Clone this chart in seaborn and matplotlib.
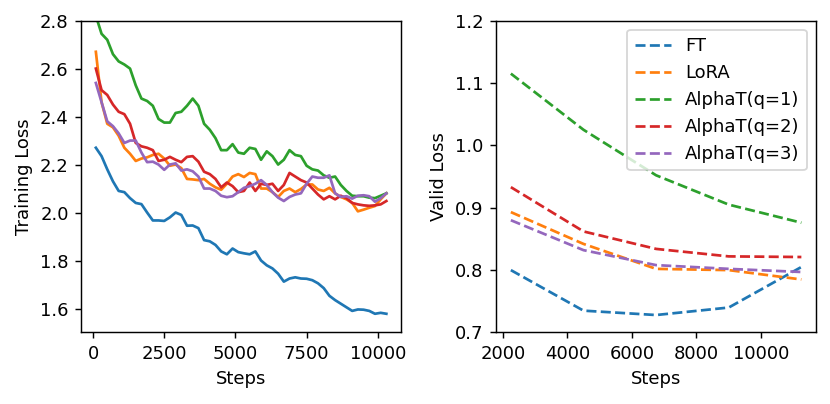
import numpy as np
import pandas as pd
import matplotlib
matplotlib.use("Agg")
import matplotlib.pyplot as plt
import seaborn as sns

# training loss curves (left)
train_steps = [100, 300, 500, 700, 900, 1100, 1300, 1500, 1700, 1900,
               2100, 2300, 2500, 2700, 2900, 3100, 3300, 3500, 3700, 3900,
               4100, 4300, 4500, 4700, 4900, 5100, 5300, 5500, 5700, 5900,
               6100, 6300, 6500, 6700, 6900, 7100, 7300, 7500, 7700, 7900,
               8100, 8300, 8500, 8700, 8900, 9100, 9300, 9500, 9700, 9900,
               10100, 10300]
train_ft = [2.27, 2.235, 2.18, 2.13, 2.09, 2.085, 2.06, 2.04, 2.035, 2.0,
            1.967, 1.967, 1.965, 1.98, 2.0, 1.99, 1.945, 1.946, 1.935, 1.885,
            1.88, 1.865, 1.838, 1.826, 1.85, 1.835, 1.83, 1.826, 1.838, 1.80,
            1.78, 1.767, 1.745, 1.712, 1.725, 1.73, 1.725, 1.724, 1.718, 1.705,
            1.685, 1.653, 1.635, 1.62, 1.605, 1.59, 1.596, 1.595, 1.59, 1.578,
            1.582, 1.578]
train_lora = [2.67, 2.46, 2.37, 2.355, 2.32, 2.27, 2.245, 2.215, 2.225, 2.23,
              2.24, 2.245, 2.225, 2.195, 2.2, 2.185, 2.14, 2.138, 2.135, 2.14,
              2.12, 2.105, 2.095, 2.12, 2.15, 2.16, 2.148, 2.165, 2.16, 2.1,
              2.1, 2.085, 2.065, 2.09, 2.1, 2.085, 2.098, 2.117, 2.117, 2.096,
              2.09, 2.103, 2.08, 2.065, 2.055, 2.04, 2.005, 2.012, 2.02, 2.027,
              2.055, 2.08]
train_q1 = [2.82, 2.745, 2.72, 2.66, 2.63, 2.617, 2.60, 2.53, 2.475, 2.465,
            2.445, 2.39, 2.375, 2.375, 2.415, 2.42, 2.445, 2.475, 2.445, 2.37,
            2.345, 2.31, 2.26, 2.26, 2.285, 2.25, 2.245, 2.27, 2.265, 2.22,
            2.255, 2.235, 2.2, 2.22, 2.26, 2.24, 2.235, 2.195, 2.18, 2.175,
            2.155, 2.145, 2.15, 2.115, 2.09, 2.07, 2.068, 2.068, 2.062, 2.06,
            2.07, 2.08]
train_q2 = [2.60, 2.51, 2.49, 2.45, 2.42, 2.41, 2.37, 2.29, 2.276, 2.27,
            2.26, 2.215, 2.22, 2.232, 2.22, 2.21, 2.232, 2.235, 2.212, 2.17,
            2.16, 2.14, 2.105, 2.125, 2.11, 2.085, 2.09, 2.125, 2.09, 2.12,
            2.115, 2.12, 2.09, 2.115, 2.165, 2.15, 2.135, 2.125, 2.1, 2.075,
            2.055, 2.068, 2.055, 2.07, 2.06, 2.04, 2.034, 2.03, 2.028, 2.03,
            2.034, 2.048]
train_q3 = [2.54, 2.46, 2.38, 2.36, 2.33, 2.29, 2.30, 2.30, 2.25, 2.21,
            2.212, 2.2, 2.178, 2.2, 2.205, 2.175, 2.18, 2.172, 2.15, 2.10,
            2.10, 2.09, 2.07, 2.064, 2.068, 2.085, 2.103, 2.11, 2.12, 2.135,
            2.115, 2.085, 2.062, 2.048, 2.065, 2.075, 2.08, 2.12, 2.15, 2.145,
            2.145, 2.155, 2.08, 2.065, 2.068, 2.058, 2.07, 2.072, 2.068, 2.045,
            2.06, 2.08]

# validation loss (right)
valid_steps = [2250, 4500, 6750, 9000, 11250]
valid_ft = [0.800, 0.735, 0.728, 0.740, 0.805]
valid_lora = [0.893, 0.842, 0.802, 0.800, 0.785]
valid_q1 = [1.115, 1.025, 0.952, 0.905, 0.876]
valid_q2 = [0.933, 0.862, 0.834, 0.822, 0.821]
valid_q3 = [0.880, 0.832, 0.808, 0.802, 0.797]

methods = ["FT", "LoRA", "AlphaT(q=1)", "AlphaT(q=2)", "AlphaT(q=3)"]
train_all = [train_ft, train_lora, train_q1, train_q2, train_q3]
valid_all = [valid_ft, valid_lora, valid_q1, valid_q2, valid_q3]

train_df = pd.concat([pd.DataFrame({"Steps": train_steps, "loss": v, "method": m})
                      for m, v in zip(methods, train_all)], ignore_index=True)

palette = dict(zip(methods, sns.color_palette("tab10", 5)))

# render at 130 dpi so text and lines come out at the reference's scale
fig, (ax1, ax2) = plt.subplots(1, 2, figsize=(830 / 130, 404 / 130), dpi=130)
ax1.set_position([0.098, 0.177, 0.483 - 0.098, 0.949 - 0.177])
ax2.set_position([0.598, 0.177, 0.983 - 0.598, 0.949 - 0.177])

sns.lineplot(data=train_df, x="Steps", y="loss", hue="method", palette=palette,
             ax=ax1, legend=False, linewidth=1.5)
ax1.set_ylim(1.5, 2.8)
ax1.set_yticks([1.6, 1.8, 2.0, 2.2, 2.4, 2.6, 2.8])
ax1.set_xticks([0, 2500, 5000, 7500, 10000])
ax1.set_xlabel("Steps")
ax1.set_ylabel("Training Loss")

for m, v in zip(methods, valid_all):
    sns.lineplot(x=valid_steps, y=v, ax=ax2, color=palette[m], label=m,
                 linestyle="--", linewidth=1.5)
ax2.set_ylim(0.7, 1.2)
ax2.set_yticks([0.7, 0.8, 0.9, 1.0, 1.1, 1.2])
ax2.set_xticks([2000, 4000, 6000, 8000, 10000])
ax2.set_xlabel("Steps")
ax2.set_ylabel("Valid Loss")
ax2.legend(loc="upper right")

fig.savefig("out.png", dpi=130)
